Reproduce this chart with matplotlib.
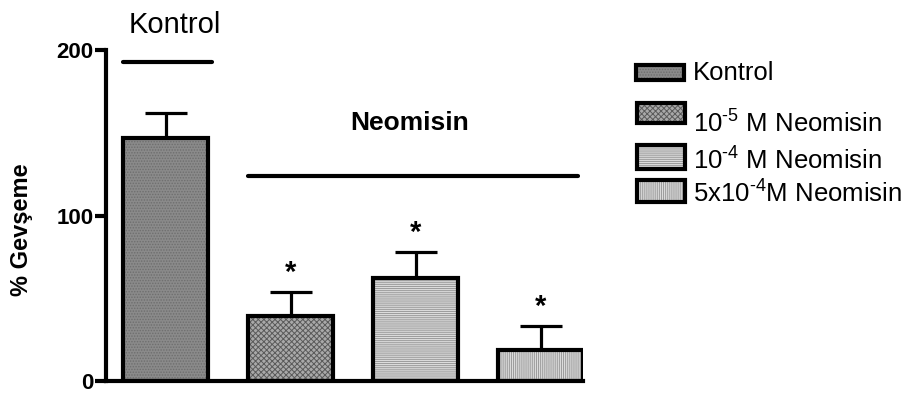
import matplotlib
matplotlib.use("Agg")
import matplotlib.pyplot as plt
from matplotlib.patches import Rectangle

plt.rcParams["font.family"] = ["Liberation Sans", "DejaVu Sans"]
plt.rcParams["mathtext.fontset"] = "custom"
plt.rcParams["mathtext.rm"] = "Liberation Sans"
plt.rcParams["hatch.linewidth"] = 0.7

# data
labels = ["Kontrol",
          "10$^{\\mathregular{\u2010 5}}$ M Neomisin",
          "10$^{\\mathregular{\u2010 4}}$ M Neomisin",
          "5x10$^{\\mathregular{\u2010 4}}$M Neomisin"]
means = [147, 39, 62, 19]
sems = [15, 15, 16, 14]
significant = [False, True, True, True]

# bar styling
face = ["#8a8a8a", "#a9a9a9", "#dcdcdc", "#dcdcdc"]
hatch = ["......", "xxxxxx", "--------", "||||||||"]
hatch_col = ["#6e6e6e", "#5a5a5a", "#9a9a9a", "#9a9a9a"]

W, H = 910, 397
fig = plt.figure(figsize=(W / 100, H / 100), dpi=100)
ax = fig.add_axes([106 / W, 16 / H, 477 / W, 331 / H])

x = list(range(len(means)))
bw = 0.68
ax.bar(x, means, width=bw, color=face, edgecolor="none", zorder=2)
ax.bar(x, means, width=bw, color="none", edgecolor=hatch_col, hatch=hatch,
       linewidth=0, zorder=3)
ax.bar(x, means, width=bw, color="none", edgecolor="black", linewidth=3, zorder=4)
ax.errorbar(x, means, yerr=[[0] * len(sems), sems], fmt="none", ecolor="black",
            elinewidth=2.3, capsize=15, capthick=2.3, zorder=1)

for xi, m, s, sig in zip(x, means, sems, significant):
    if sig:
        ax.text(xi, m + s + 3, "*", ha="center", va="bottom", fontsize=21,
                fontweight="bold")

# group brackets
ax.plot([-0.34, 0.37], [193, 193], color="black", lw=3, solid_capstyle="round",
        clip_on=False)
ax.text(0.07, 210, "Kontrol", ha="center", va="baseline", fontsize=21)
ax.plot([0.66, 3.3], [124, 124], color="black", lw=3, solid_capstyle="round",
        clip_on=False)
ax.text(1.95, 151.5, "Neomisin", ha="center", va="baseline", fontsize=19,
        fontweight="bold")

ax.set_xlim(-0.48, 3.34)
ax.set_ylim(0, 200)
ax.set_yticks([0, 100, 200])
ax.set_xticks([])
for lab in ax.get_yticklabels():
    lab.set_fontweight("bold")
ax.tick_params(axis="y", labelsize=16, width=3, length=8, pad=1)
for side in ("top", "right"):
    ax.spines[side].set_visible(False)
for side in ("left", "bottom"):
    ax.spines[side].set_linewidth(3)
ax.set_ylabel("% Gevşeme", fontsize=17, fontweight="bold")
ax.yaxis.set_label_coords(-0.153, 0.456)

# legend drawn in pixel space
lg = fig.add_axes([0, 0, 1, 1])
lg.set_xlim(0, W)
lg.set_ylim(H, 0)
lg.axis("off")
boxes = [(636, 65, 48, 15), (637, 103, 48, 20), (637, 145, 48, 24), (637, 180, 48, 22)]
text_y = [73, 123, 160, 193]
for (bx, by, bw_, bh), ty, lab, fc, ht, hc in zip(boxes, text_y, labels, face, hatch, hatch_col):
    lg.add_patch(Rectangle((bx, by), bw_, bh, facecolor=fc, edgecolor="none"))
    lg.add_patch(Rectangle((bx, by), bw_, bh, facecolor="none", edgecolor=hc,
                           hatch=ht, linewidth=0))
    lg.add_patch(Rectangle((bx, by), bw_, bh, facecolor="none", edgecolor="black",
                           linewidth=3))
    lg.text(693, ty, lab, ha="left", va="center", fontsize=18.5)

fig.savefig("out.png", dpi=100, facecolor="white")
